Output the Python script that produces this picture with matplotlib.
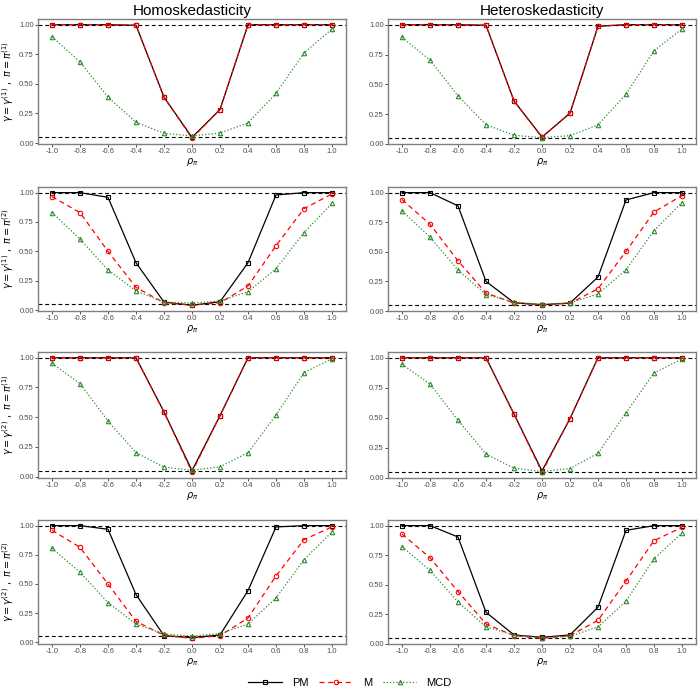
import matplotlib
matplotlib.use("Agg")
import matplotlib.pyplot as plt
import numpy as np

plt.rcParams['font.family'] = ['Liberation Sans', 'DejaVu Sans']

rho = [-1.0, -0.8, -0.6, -0.4, -0.2, 0.0, 0.2, 0.4, 0.6, 0.8, 1.0]
xtick_labels = ["-1.0", "-0.8", "-0.6", "-0.4", "-0.2", "0.0", "0.2", "0.4", "0.6", "0.8", "1.0"]
ytick_vals = [0.0, 0.25, 0.5, 0.75, 1.0]
ytick_labels = ["0.00", "0.25", "0.50", "0.75", "1.00"]
col_titles = ["Homoskedasticity", "Heteroskedasticity"]
row_labels = [r"$\gamma = \gamma^{(1)}\ ,\ \pi = \pi^{(1)}$",
              r"$\gamma = \gamma^{(1)}\ ,\ \pi = \pi^{(2)}$",
              r"$\gamma = \gamma^{(2)}\ ,\ \pi = \pi^{(1)}$",
              r"$\gamma = \gamma^{(2)}\ ,\ \pi = \pi^{(2)}$"]
methods = ["PM", "M", "MCD"]
ref_lines = [0.05, 1.0]

# Row 1: gamma1, pi1
pm_11 = [1.0, 1.0, 1.0, 0.995, 0.388, 0.048, 0.283, 1.0, 1.0, 1.0, 1.0]
m_11 = [1.0, 1.0, 1.0, 0.995, 0.388, 0.040, 0.283, 1.0, 1.0, 1.0, 1.0]
mcd_11 = [0.898, 0.686, 0.388, 0.176, 0.082, 0.060, 0.085, 0.170, 0.419, 0.762, 0.963]
pm_12 = [1.0, 1.0, 1.0, 0.995, 0.361, 0.059, 0.258, 0.986, 1.0, 1.0, 1.0]
m_12 = [1.0, 1.0, 1.0, 0.995, 0.360, 0.055, 0.260, 0.988, 1.0, 1.0, 1.0]
mcd_12 = [0.894, 0.703, 0.403, 0.162, 0.073, 0.053, 0.070, 0.160, 0.417, 0.782, 0.964]
# Row 2: gamma1, pi2
pm_21 = [1.0, 1.0, 0.960, 0.403, 0.068, 0.040, 0.071, 0.403, 0.980, 1.0, 1.0]
m_21 = [0.966, 0.830, 0.500, 0.193, 0.062, 0.043, 0.062, 0.205, 0.548, 0.864, 0.989]
mcd_21 = [0.830, 0.605, 0.341, 0.162, 0.068, 0.060, 0.077, 0.156, 0.352, 0.659, 0.909]
pm_22 = [1.0, 1.0, 0.888, 0.250, 0.070, 0.053, 0.067, 0.287, 0.938, 1.0, 1.0]
m_22 = [0.941, 0.733, 0.424, 0.152, 0.067, 0.053, 0.065, 0.188, 0.503, 0.837, 0.975]
mcd_22 = [0.845, 0.624, 0.346, 0.138, 0.076, 0.056, 0.070, 0.143, 0.348, 0.680, 0.916]
# Row 3: gamma2, pi1
pm_31 = [1.0, 1.0, 1.0, 1.0, 0.544, 0.051, 0.513, 1.0, 1.0, 1.0, 1.0]
m_31 = [1.0, 1.0, 1.0, 1.0, 0.544, 0.037, 0.513, 1.0, 1.0, 1.0, 1.0]
mcd_31 = [0.952, 0.783, 0.467, 0.202, 0.080, 0.054, 0.083, 0.202, 0.519, 0.875, 0.991]
pm_32 = [1.0, 1.0, 1.0, 1.0, 0.530, 0.056, 0.493, 1.0, 1.0, 1.0, 1.0]
m_32 = [1.0, 1.0, 1.0, 1.0, 0.530, 0.045, 0.493, 1.0, 1.0, 1.0, 1.0]
mcd_32 = [0.946, 0.780, 0.479, 0.197, 0.079, 0.051, 0.076, 0.203, 0.541, 0.873, 0.989]
# Row 4: gamma2, pi2
pm_41 = [1.0, 1.0, 0.969, 0.409, 0.057, 0.040, 0.063, 0.443, 0.989, 1.0, 1.0]
m_41 = [0.960, 0.814, 0.500, 0.180, 0.060, 0.034, 0.057, 0.209, 0.569, 0.880, 0.989]
mcd_41 = [0.806, 0.600, 0.340, 0.157, 0.071, 0.054, 0.074, 0.157, 0.380, 0.709, 0.946]
pm_42 = [1.0, 1.0, 0.904, 0.266, 0.074, 0.054, 0.074, 0.309, 0.960, 1.0, 1.0]
m_42 = [0.929, 0.728, 0.442, 0.167, 0.068, 0.045, 0.068, 0.198, 0.530, 0.873, 0.986]
mcd_42 = [0.822, 0.620, 0.354, 0.142, 0.074, 0.051, 0.062, 0.142, 0.360, 0.720, 0.938]

panels = [
    [(pm_11, m_11, mcd_11), (pm_12, m_12, mcd_12)],
    [(pm_21, m_21, mcd_21), (pm_22, m_22, mcd_22)],
    [(pm_31, m_31, mcd_31), (pm_32, m_32, mcd_32)],
    [(pm_41, m_41, mcd_41), (pm_42, m_42, mcd_42)],
]

styles = [
    dict(color="black", linestyle="-", marker="s"),
    dict(color="red", linestyle=(0, (4, 3)), marker="o"),
    dict(color="#2e8b2e", linestyle=(0, (1, 1.6)), marker="^"),
]

W = H = 700.0
fig = plt.figure(figsize=(7, 7), dpi=100)
fig.patch.set_facecolor("white")

col_x = [38, 388]
pw = 308
row_y = [(19, 144), (187, 311), (352, 478), (520, 644)]

handles = []
for r in range(4):
    for c in range(2):
        top, bot = row_y[r]
        ax = fig.add_axes([col_x[c] / W, 1 - bot / H, pw / W, (bot - top) / H])
        series = panels[r][c]
        for h in ref_lines:
            ax.axhline(h, color="black", linestyle=(0, (3.5, 2.5)), linewidth=0.8, zorder=1)
        for s, st, name in zip(series, styles, methods):
            ln, = ax.plot(rho, s, color=st["color"], linestyle=st["linestyle"], linewidth=0.9,
                          marker=st["marker"], markersize=3.2, markerfacecolor="none",
                          markeredgewidth=0.8, markeredgecolor=st["color"], label=name, zorder=3)
            if r == 0 and c == 0:
                handles.append(ln)
        allv = np.concatenate([np.array(series).ravel(), ref_lines])
        lo, hi = allv.min(), allv.max()
        pad = 0.05 * (hi - lo)
        ax.set_ylim(lo - pad, hi + pad)
        ax.set_xlim(-1.1, 1.1)
        ax.set_xticks(rho)
        ax.set_xticklabels(xtick_labels)
        ax.set_yticks(ytick_vals)
        ax.set_yticklabels(ytick_labels)
        ax.tick_params(axis="both", labelsize=5.5, labelcolor="#4d4d4d", color="#333333",
                       length=2.0, width=0.6, pad=1.0)
        for sp in ax.spines.values():
            sp.set_color("#7f7f7f")
            sp.set_linewidth(1.0)
        ax.set_xlabel(r"$\rho_\pi$", fontsize=7, labelpad=0.5)
        if c == 0:
            ax.set_ylabel(row_labels[r], fontsize=7)
            ax.yaxis.set_label_coords(-0.07, 0.5)
        if r == 0:
            ax.set_title(col_titles[c], fontsize=11, pad=3)

leg = fig.legend(handles=handles, labels=methods, loc="center", bbox_to_anchor=(0.5, 1 - 683 / H),
                 ncol=3, frameon=False, fontsize=8, handlelength=3.0, columnspacing=1.0,
                 handletextpad=0.9)

fig.savefig("out.png", dpi=100, facecolor="white")
